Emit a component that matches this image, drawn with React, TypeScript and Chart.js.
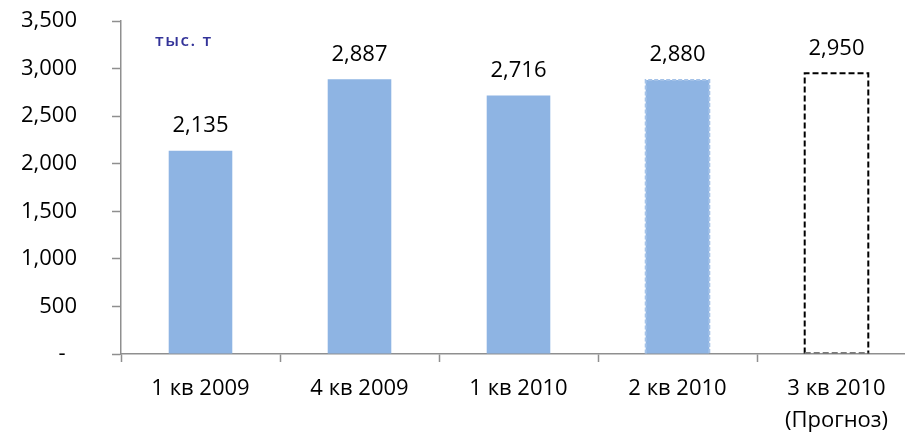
import { useEffect, useRef } from "react";
import { Chart, registerables } from "chart.js";

Chart.register(...registerables);

// Quarterly volumes, thousand tonnes
const categories: (string | string[])[] = [
  "1 кв 2009",
  "4 кв 2009",
  "1 кв 2010",
  "2 кв 2010",
  ["3 кв 2010", "(Прогноз)"],
];
const volumes = [2135, 2887, 2716, 2880, 2950];
const yMin = 0;
const yMax = 3500;
const yStep = 500;
const unitLabel = "тыс. т";

const BAR_BLUE = "#8EB4E3";
const AXIS_GREY = "#8f8f8f";
const FONT = "'Open Sans', 'DejaVu Sans', sans-serif";

const barFills = [BAR_BLUE, BAR_BLUE, BAR_BLUE, BAR_BLUE, "rgba(0,0,0,0)"];
// Dashed outlines: the estimated quarter and the forecast quarter
const barOutlines: ({ color: string; dash: number[]; base?: string } | null)[] = [
  null,
  null,
  null,
  { color: "#a4c2e8", dash: [4, 2] },
  { color: "#000000", dash: [6, 3], base: "#7a7a7a" },
];

const fmt = (v: number) => v.toLocaleString("en-US");

const barDecorations = {
  id: "barDecorations",
  afterDatasetsDraw(chart: any) {
    const ctx: CanvasRenderingContext2D = chart.ctx;
    const meta = chart.getDatasetMeta(0);
    const values = chart.data.datasets[0].data as number[];
    meta.data.forEach((el: any, i: number) => {
      const { x, y, base, width } = el.getProps(["x", "y", "base", "width"], true);
      const outline = barOutlines[i];
      const l = x - width / 2;
      const r = x + width / 2;
      if (outline) {
        ctx.save();
        ctx.setLineDash(outline.dash);
        ctx.lineWidth = 2;
        ctx.strokeStyle = outline.color;
        ctx.beginPath();
        ctx.moveTo(l, base);
        ctx.lineTo(l, y);
        ctx.lineTo(r, y);
        ctx.lineTo(r, base);
        ctx.stroke();
        if (outline.base) {
          ctx.strokeStyle = outline.base;
          ctx.beginPath();
          ctx.moveTo(l, base - 0.5);
          ctx.lineTo(r, base - 0.5);
          ctx.stroke();
        }
        ctx.restore();
      }
      ctx.save();
      ctx.font = `22px ${FONT}`;
      ctx.fillStyle = "#000000";
      ctx.textAlign = "center";
      ctx.textBaseline = "alphabetic";
      ctx.fillText(fmt(values[i]), x, y - 18.5);
      ctx.restore();
    });

    // unit caption in the top-left corner of the plot
    const area = chart.chartArea;
    ctx.save();
    ctx.font = `600 17px ${FONT}`;
    (ctx as any).letterSpacing = "1.5px";
    ctx.fillStyle = "#333399";
    ctx.textAlign = "left";
    ctx.textBaseline = "alphabetic";
    ctx.fillText(unitLabel, area.left + 34, area.top + 25);
    ctx.restore();
  },
};

function VolumeChart() {
  const ref = useRef<HTMLCanvasElement>(null);

  useEffect(() => {
    let chart: Chart | null = null;
    let cancelled = false;
    const build = () => {
      if (cancelled || !ref.current) return;
      chart = new Chart(ref.current, {
        type: "bar",
        data: {
          labels: categories,
          datasets: [
            {
              data: volumes,
              backgroundColor: barFills,
              borderWidth: 0,
              barPercentage: 0.4,
              categoryPercentage: 1,
            },
          ],
        },
        options: {
          responsive: false,
          animation: false,
          devicePixelRatio: 1,
          layout: { padding: { top: 21, left: 0, right: 0, bottom: 0 } },
          plugins: {
            legend: { display: false },
            tooltip: { enabled: false },
          },
          scales: {
            x: {
              grid: {
                display: true,
                offset: true,
                drawOnChartArea: false,
                drawTicks: true,
                tickLength: 8,
                tickWidth: 1.5,
                tickColor: AXIS_GREY,
              },
              border: { display: true, color: AXIS_GREY, width: 1.5 },
              ticks: {
                color: "#000000",
                font: { family: FONT, size: 22, lineHeight: 1.45 },
                padding: 11,
                maxRotation: 0,
                autoSkip: false,
              },
              afterFit: (s: any) => {
                s.height = 80;
                s.paddingLeft = 0;
                s.paddingRight = 0;
              },
            },
            y: {
              min: yMin,
              max: yMax,
              grid: {
                display: true,
                drawOnChartArea: false,
                drawTicks: true,
                tickLength: 9,
                tickWidth: 1.5,
                tickColor: AXIS_GREY,
              },
              border: { display: true, color: AXIS_GREY, width: 1.5 },
              ticks: {
                stepSize: yStep,
                color: "#000000",
                font: { family: FONT, size: 22 },
                padding: 35,
                callback: (v: any) => (Number(v) === 0 ? "-  " : fmt(Number(v))),
              },
              afterFit: (s: any) => {
                s.width = 121;
                s.paddingTop = 0;
                s.paddingBottom = 0;
              },
            },
          },
        },
        plugins: [barDecorations],
      });
    };
    const fonts = (document as any).fonts;
    if (fonts && fonts.load) {
      Promise.all([fonts.load(`22px 'Open Sans'`), fonts.load(`600 17px 'Open Sans'`)])
        .catch(() => undefined)
        .then(build);
    } else {
      build();
    }
    return () => {
      cancelled = true;
      if (chart) chart.destroy();
    };
  }, []);

  return (
    <div
      style={{
        position: "absolute",
        left: 0,
        top: 0,
        width: 905,
        height: 434,
        overflow: "hidden",
        background: "#ffffff",
      }}
    >
      <canvas ref={ref} width={916} height={434} style={{ display: "block" }} />
    </div>
  );
}

export default function App() {
  return <VolumeChart />;
}
